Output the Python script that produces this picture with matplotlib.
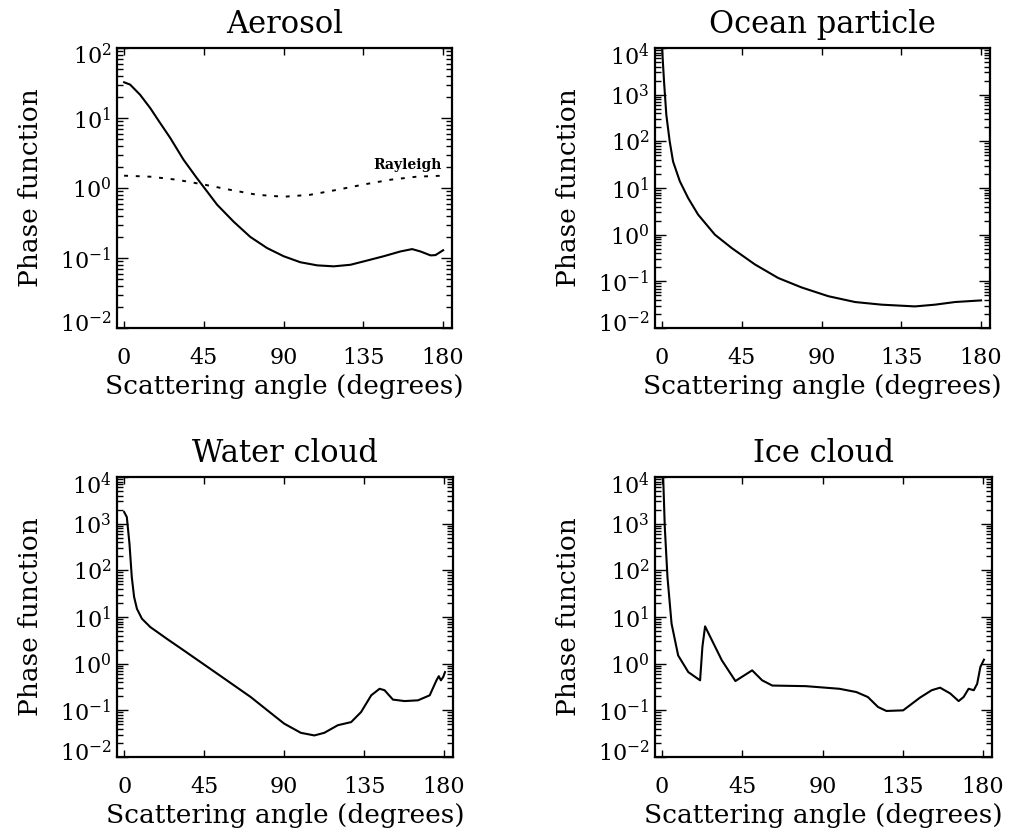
import matplotlib
matplotlib.use("Agg")
import matplotlib.pyplot as plt
from matplotlib.transforms import ScaledTranslation

plt.rcParams['font.family'] = ['DejaVu Serif']
plt.rcParams['mathtext.fontset'] = 'dejavuserif'

# datos (angulo en grados, funcion de fase)
aerosol_ang = [0, 3.4, 9, 14.7, 20.3, 26, 33.5, 41, 46.7, 52.4, 61.8, 71.2, 80.6,
               90, 99.4, 108.9, 118.3, 127.7, 137.1, 146.5, 155.9, 162.5, 167.2,
               172.9, 175.7, 180]
aerosol_val = [32.4, 30, 21.5, 13.9, 8.5, 5.2, 2.54, 1.39, 0.90, 0.58, 0.33, 0.20,
               0.139, 0.106, 0.087, 0.0785, 0.076, 0.080, 0.092, 0.106, 0.124,
               0.134, 0.124, 0.109, 0.110, 0.129]

rayleigh_ang = [0, 15, 30, 45, 60, 75, 90, 105, 120, 135, 150, 165, 180]
rayleigh_val = [1.5, 1.45, 1.31, 1.12, 0.94, 0.80, 0.75, 0.80, 0.94, 1.12, 1.31, 1.45, 1.5]

ocean_ang = [0, 1.1, 2.4, 4.3, 6.2, 10, 14.7, 20.3, 29.8, 39.2, 52.4, 65.5, 78.7,
             93.8, 108.9, 123.9, 142.7, 154, 165.3, 180]
ocean_val = [10000, 1940, 370, 100, 37, 14, 6.1, 2.7, 1.0, 0.52, 0.23, 0.118, 0.074,
             0.048, 0.036, 0.0316, 0.029, 0.0316, 0.036, 0.039]

water_ang = [0, 1.5, 3.0, 4.3, 5.6, 7.2, 10, 14.7, 24.1, 33.5, 52.4, 71.2, 80.6,
             90, 99.4, 107, 112.6, 120.2, 127.7, 133.3, 139, 143.7, 146.5, 151.2,
             157.8, 165.3, 171.9, 175.7, 177, 178.2, 179.5, 180.5]
water_val = [1780, 1390, 372, 72, 27, 15, 9.2, 6.1, 3.4, 1.93, 0.61, 0.193, 0.10,
             0.052, 0.033, 0.029, 0.033, 0.048, 0.056, 0.092, 0.21, 0.29, 0.27,
             0.17, 0.158, 0.164, 0.21, 0.44, 0.54, 0.44, 0.52, 0.66]

ice_ang = [0.6, 1.5, 3.0, 5.3, 9.0, 14.7, 21.3, 22.6, 24.1, 27.9, 33.5, 41.1, 50.5,
           56.1, 61.8, 80.6, 99.4, 108.9, 115.4, 121.1, 125.8, 135.2, 144.6, 151.2,
           155.9, 161.6, 166.3, 169.1, 171.9, 174.8, 176.7, 178.5, 180.5]
ice_val = [10000, 850, 72, 7.2, 1.5, 0.66, 0.44, 2.3, 6.3, 3.2, 1.18, 0.425, 0.72,
           0.44, 0.34, 0.33, 0.29, 0.247, 0.193, 0.118, 0.097, 0.10, 0.187, 0.27,
           0.306, 0.23, 0.158, 0.193, 0.29, 0.27, 0.37, 0.85, 1.22]

x_ticks = [0, 45, 90, 135, 180]


def preparar_eje(ax, titulo, ymax_exp):
    ax.set_yscale('log')
    ax.set_xlim(-4, 185)
    ax.set_ylim(1e-2, 10.0 ** ymax_exp)
    ax.set_xticks(x_ticks)
    ax.set_yticks([10.0 ** k for k in range(-2, ymax_exp + 1)])
    ax.xaxis.set_minor_locator(matplotlib.ticker.NullLocator())
    ax.tick_params(which='both', direction='in', top=True, right=True, width=1.0)
    ax.tick_params(axis='x', which='major', length=5, labelsize=16, pad=14)
    ax.tick_params(axis='y', which='major', length=8, labelsize=16, pad=4)
    ax.tick_params(axis='y', which='minor', length=4)
    for s in ax.spines.values():
        s.set_linewidth(1.6)
    ax.set_title(titulo, fontsize=22, pad=11)
    ax.set_xlabel("Scattering angle (degrees)", fontsize=19, labelpad=3)
    ax.set_ylabel("Phase function", fontsize=19, labelpad=12)
    # etiquetas de los extremos un poco hacia adentro, como en el original
    ticks = ax.yaxis.get_major_ticks()
    dy = 6 / 100
    lab = ticks[0].label1
    lab.set_transform(lab.get_transform() + ScaledTranslation(0, dy, fig.dpi_scale_trans))
    lab = ticks[-1].label1
    lab.set_transform(lab.get_transform() + ScaledTranslation(0, -dy, fig.dpi_scale_trans))


fig = plt.figure(figsize=(10.15, 8.35), dpi=100)

ax1 = fig.add_axes([0.1153, 0.6072, 0.330, 0.3353])
ax2 = fig.add_axes([0.6453, 0.6072, 0.330, 0.3353])
ax3 = fig.add_axes([0.1153, 0.0934, 0.331, 0.3353])
ax4 = fig.add_axes([0.6453, 0.0934, 0.332, 0.3353])

ax1.plot(aerosol_ang, aerosol_val, color='black', lw=1.5)
ax1.plot(rayleigh_ang, rayleigh_val, color='black', lw=1.4, linestyle=(0, (2, 4)))
ax1.text(160, 2.15, "Rayleigh", fontsize=10, fontweight='bold', ha='center', va='center')
preparar_eje(ax1, "Aerosol", 2)

ax2.plot(ocean_ang, ocean_val, color='black', lw=1.5)
preparar_eje(ax2, "Ocean particle", 4)

ax3.plot(water_ang, water_val, color='black', lw=1.5)
preparar_eje(ax3, "Water cloud", 4)

ax4.plot(ice_ang, ice_val, color='black', lw=1.5)
preparar_eje(ax4, "Ice cloud", 4)

fig.savefig("out.png", dpi=100)
